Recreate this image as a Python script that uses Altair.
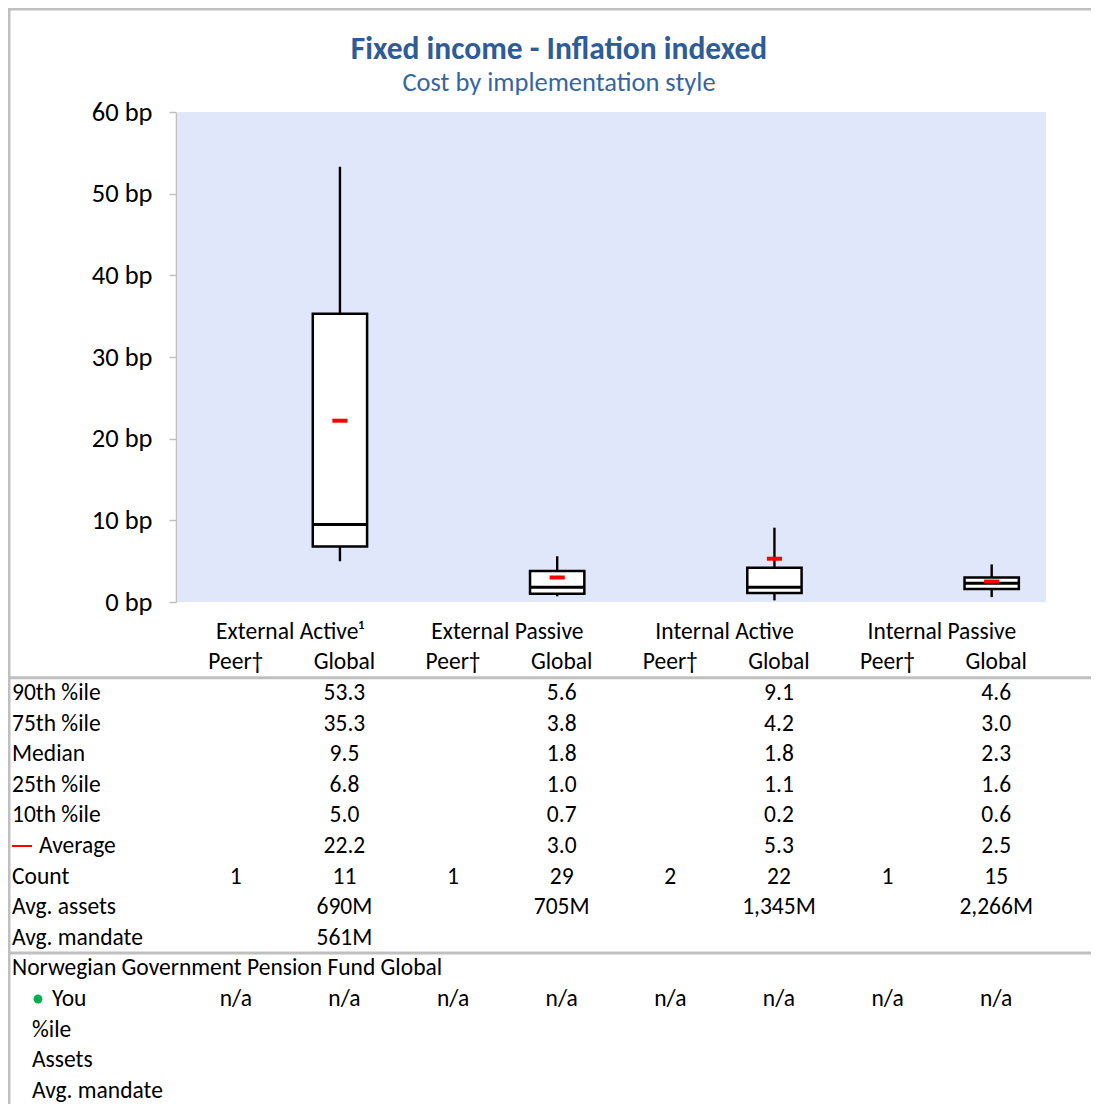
import altair as alt
import pandas as pd

# ---------------- data ----------------
title_text = "Fixed income - Inflation indexed"
subtitle_text = "Cost by implementation style"

groups = ["External Active¹", "External Passive", "Internal Active", "Internal Passive"]
sub_headers = ["Peer†", "Global"]

p90 = [53.3, 5.6, 9.1, 4.6]
p75 = [35.3, 3.8, 4.2, 3.0]
median = [9.5, 1.8, 1.8, 2.3]
p25 = [6.8, 1.0, 1.1, 1.6]
p10 = [5.0, 0.7, 0.2, 0.6]
average = [22.2, 3.0, 5.3, 2.5]
peer_count = [1, 1, 2, 1]
global_count = [11, 29, 22, 15]
avg_assets = ["690M", "705M", "1,345M", "2,266M"]
avg_mandate = ["561M", "", "", ""]

stat_labels = ["90th %ile", "75th %ile", "Median", "25th %ile", "10th %ile"]
average_label = "Average"
other_labels = ["Count", "Avg. assets", "Avg. mandate"]
fund_name = "Norwegian Government Pension Fund Global"
you_label = "You"
you_values = ["n/a"] * 8
you_sub_labels = ["%ile", "Assets", "Avg. mandate"]

y_ticks = [0, 10, 20, 30, 40, 50, 60]

# ---------------- layout ----------------
W, H = 1083, 1096
FONT = "Calibri, Carlito, Lato, sans-serif"
TXT = 23.5
GRAY = "#BFBFBF"

xbox = alt.Scale(domain=[0, 8], range=[169, 1038], nice=False, zero=False)
ybox = alt.Scale(domain=[0, 60], range=[594, 104], nice=False, zero=False)
xtab = alt.Scale(domain=[0, 8], range=[173.5, 1042.5], nice=False, zero=False)
ytab = alt.Scale(domain=[-2, 13], range=[623.8, 1082.8], nice=False, zero=False)

# ---------------- tables ----------------
box_df = pd.DataFrame({
    "slot": [2 * i + 1 for i in range(4)],
    "p90": p90, "p75": p75, "median": median, "p25": p25, "p10": p10, "avg": average,
})

cells = []
for g in range(4):
    peer, glob = 2 * g + 0.5, 2 * g + 1.5
    cells.append({"row": -2, "xv": 2 * g + 1, "txt": groups[g]})
    cells.append({"row": -1, "xv": peer, "txt": sub_headers[0]})
    cells.append({"row": -1, "xv": glob, "txt": sub_headers[1]})
    for r, arr in enumerate([p90, p75, median, p25, p10, average]):
        cells.append({"row": r, "xv": glob, "txt": f"{arr[g]:.1f}"})
    cells.append({"row": 6, "xv": peer, "txt": str(peer_count[g])})
    cells.append({"row": 6, "xv": glob, "txt": str(global_count[g])})
    cells.append({"row": 7, "xv": glob, "txt": avg_assets[g]})
    if avg_mandate[g]:
        cells.append({"row": 8, "xv": glob, "txt": avg_mandate[g]})
for c in range(8):
    cells.append({"row": 10, "xv": c + 0.5, "txt": you_values[c]})
cells_df = pd.DataFrame(cells)

main_labels = pd.DataFrame({
    "row": [0, 1, 2, 3, 4, 6, 7, 8, 9],
    "txt": stat_labels + other_labels + [fund_name],
})
avg_label_df = pd.DataFrame({"row": [5], "txt": [average_label]})
you_df = pd.DataFrame({"row": [10], "txt": [you_label]})
sub_df = pd.DataFrame({"row": [11, 12, 13], "txt": you_sub_labels})
sep_df = pd.DataFrame({"row": [-0.5, 8.5]})

# ---------------- layers ----------------
bg = alt.Chart(pd.DataFrame({"x0": [0], "x1": [8], "y0": [0], "y1": [60]})).mark_rect(
    color="#E1E7FA"
).encode(
    x=alt.X("x0:Q", scale=xbox, axis=None),
    x2="x1:Q",
    y=alt.Y("y0:Q", scale=ybox, axis=alt.Axis(
        values=y_ticks, labelExpr="datum.value + ' bp'", offset=-168, grid=False,
        domainColor=GRAY, domainWidth=1.5, tickColor=GRAY, tickWidth=1.5, tickSize=7,
        labelPadding=17, labelFont=FONT, labelFontSize=26.5, labelColor="black", title=None,
    )),
    y2="y1:Q",
)

base = alt.Chart(box_df).transform_calculate(
    left="datum.slot + 0.25", right="datum.slot + 0.75", mid="datum.slot + 0.5",
    aL="datum.slot + 0.43", aR="datum.slot + 0.57",
)
whisker = base.mark_rule(color="black", strokeWidth=2.4).encode(
    x=alt.X("mid:Q", scale=xbox, axis=None),
    y=alt.Y("p10:Q", scale=ybox, axis=None), y2="p90:Q",
)
box = base.mark_rect(fill="white", stroke="black", strokeWidth=2.5).encode(
    x=alt.X("left:Q", scale=xbox, axis=None), x2="right:Q",
    y=alt.Y("p25:Q", scale=ybox, axis=None), y2="p75:Q",
)
med = base.mark_rule(color="black", strokeWidth=3).encode(
    x=alt.X("left:Q", scale=xbox, axis=None), x2="right:Q",
    y=alt.Y("median:Q", scale=ybox, axis=None),
)
avg = base.mark_rule(color="#FF0000", strokeWidth=4).encode(
    x=alt.X("aL:Q", scale=xbox, axis=None), x2="aR:Q",
    y=alt.Y("avg:Q", scale=ybox, axis=None),
)

cell_text = alt.Chart(cells_df).mark_text(font=FONT, fontSize=TXT, color="black", align="center", baseline="middle").encode(
    x=alt.X("xv:Q", scale=xtab, axis=None),
    y=alt.Y("row:Q", scale=ytab, axis=None),
    text="txt:N",
)

def label_layer(df, xpx):
    return alt.Chart(df).mark_text(font=FONT, fontSize=TXT, color="black", align="left", baseline="middle").encode(
        x=alt.value(xpx),
        y=alt.Y("row:Q", scale=ytab, axis=None),
        text="txt:N",
    )

lab_main = label_layer(main_labels, 4)
lab_avg = label_layer(avg_label_df, 31)
lab_you = label_layer(you_df, 44)
lab_sub = label_layer(sub_df, 24)

avg_dash = alt.Chart(avg_label_df).mark_rule(color="#FF0000", strokeWidth=2).encode(
    x=alt.value(4), x2=alt.value(24), y=alt.Y("row:Q", scale=ytab, axis=None),
)
you_dot = alt.Chart(you_df).mark_circle(color="#00B050", opacity=1, size=80).encode(
    x=alt.value(30), y=alt.Y("row:Q", scale=ytab, axis=None),
)

seps = alt.Chart(sep_df).mark_rule(color=GRAY, strokeWidth=3).encode(
    x=alt.value(0), x2=alt.value(W), y=alt.Y("row:Q", scale=ytab, axis=None),
)
frame_left = alt.Chart(pd.DataFrame({"k": [0]})).mark_rule(color=GRAY, strokeWidth=3).encode(
    x=alt.value(1), y=alt.value(0), y2=alt.value(H),
)
frame_top = alt.Chart(pd.DataFrame({"k": [0]})).mark_rule(color=GRAY, strokeWidth=3).encode(
    x=alt.value(0), x2=alt.value(W), y=alt.value(1),
)

title_layer = alt.Chart(pd.DataFrame({"t": [title_text]})).mark_text(
    font=FONT, fontSize=31.5, fontWeight="bold", color="#2E5C97", align="center", baseline="middle"
).encode(x=alt.value(551), y=alt.value(42), text="t:N")
subtitle_layer = alt.Chart(pd.DataFrame({"t": [subtitle_text]})).mark_text(
    font=FONT, fontSize=26.5, color="#3466A5", align="center", baseline="middle"
).encode(x=alt.value(551), y=alt.value(75), text="t:N")

chart = alt.layer(
    bg, whisker, box, med, avg, cell_text, lab_main, lab_avg, lab_you, lab_sub,
    avg_dash, you_dot, seps, frame_left, frame_top, title_layer, subtitle_layer,
).resolve_scale(x="independent", y="independent").properties(
    width=W, height=H, autosize=alt.AutoSizeParams(type="none"), padding=0,
).configure_view(stroke=None)

chart.save("out.html", embed_options={"renderer": "svg", "actions": False})
